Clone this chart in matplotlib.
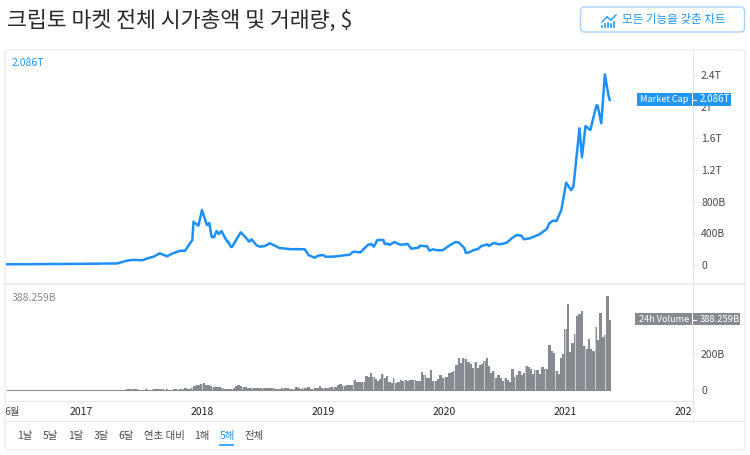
import matplotlib
matplotlib.use("Agg")
import matplotlib.pyplot as plt
from matplotlib.lines import Line2D
from matplotlib.patches import FancyBboxPatch, Rectangle

plt.rcParams['font.family'] = ['Noto Sans CJK KR', 'DejaVu Sans']

title = "크립토 마켓 전체 시가총액 및 거래량, $"
button_text = "모든 기능을 갖춘 차트"

# market cap, billions of dollars
cap_years = [2016.38, 2016.97, 2017.30, 2017.38, 2017.43, 2017.51, 2017.55, 2017.60, 2017.65, 2017.71,
             2017.76, 2017.82, 2017.86, 2017.92, 2017.93, 2017.97, 2018.00, 2018.04, 2018.06, 2018.08,
             2018.10, 2018.12, 2018.14, 2018.16, 2018.21, 2018.215, 2018.24, 2018.25, 2018.29, 2018.32,
             2018.36, 2018.39, 2018.41, 2018.45, 2018.48, 2018.52, 2018.56, 2018.64, 2018.73, 2018.81,
             2018.85, 2018.88, 2018.93, 2018.96, 2019.00, 2019.02, 2019.08, 2019.22, 2019.25, 2019.31,
             2019.37, 2019.40, 2019.42, 2019.45, 2019.50, 2019.51, 2019.54, 2019.55, 2019.59, 2019.64,
             2019.70, 2019.73, 2019.79, 2019.80, 2019.86, 2019.88, 2019.91, 2019.94, 2019.99, 2020.03,
             2020.09, 2020.12, 2020.17, 2020.18, 2020.21, 2020.24, 2020.28, 2020.31, 2020.36, 2020.37,
             2020.41, 2020.46, 2020.52, 2020.56, 2020.60, 2020.64, 2020.66, 2020.71, 2020.79, 2020.85,
             2020.87, 2020.90, 2020.93, 2020.97, 2021.01, 2021.05, 2021.07, 2021.09, 2021.12, 2021.14,
             2021.17, 2021.21, 2021.26, 2021.27, 2021.30, 2021.33, 2021.36, 2021.37]
cap_values = [9, 14, 20, 55, 65, 60, 85, 105, 148, 110,
              148, 180, 180, 316, 547, 496, 695, 505, 530, 353,
              353, 429, 392, 429, 290, 300, 227, 232, 337, 413,
              350, 294, 325, 249, 231, 240, 275, 215, 200, 200,
              198, 126, 92, 118, 126, 105, 105, 130, 168, 160,
              253, 265, 231, 316, 316, 265, 270, 253, 290, 256,
              265, 206, 219, 244, 236, 181, 198, 186, 186, 231,
              287, 287, 211, 152, 160, 186, 202, 240, 261, 240,
              278, 261, 282, 337, 379, 370, 325, 337, 388, 455,
              526, 560, 556, 695, 1040, 947, 989, 1284, 1726, 1360,
              1755, 1705, 2017, 2013, 1790, 2408, 2138, 2086]

# weekly 24h volume, billions of dollars
volume_early = [1, 1, 1, 1, 1, 1, 1, 1, 1, 1, 1, 1, 1, 1, 1, 1, 1, 1, 1, 1,
                1, 1, 1, 1, 1, 1, 1, 1, 1, 1, 1, 1, 1, 1, 2, 1, 1, 1, 1, 1,
                1, 1, 2, 2, 2, 2, 1, 2, 2, 2, 2, 2, 3, 3, 4, 5, 3, 2, 2, 2,
                3, 2, 2, 4, 3, 5, 3, 4, 2, 3, 2, 2, 3, 3, 2, 3, 3,
                10, 5, 7, 9, 24, 28, 30, 33, 37, 30, 26,
                20, 18, 17, 16, 15, 10, 8, 7, 7, 8, 12, 25, 27, 22, 19,
                15, 13, 10, 10, 11, 9, 12, 12, 11, 10, 10, 9, 9, 8, 8, 8,
                9, 9, 9, 8, 8, 8, 16, 9]
volume_mid = [7, 9, 11, 15, 7, 7, 9, 9, 20, 9, 9, 13, 13, 15, 15, 19, 28, 31, 24, 24,
              28, 28, 30, 56, 43, 43, 43, 46, 80, 74, 93, 74, 59, 52, 61, 87, 65, 78, 46, 41,
              65, 41, 44, 54, 50, 54, 50, 54, 56, 57, 48, 48, 98, 83, 65, 65, 111, 50, 52, 59,
              81, 69, 74, 74, 96, 102, 106, 139, 176, 152, 176, 170, 154, 144, 120, 157, 120, 139, 144, 163,
              176, 133, 93, 107, 65, 83, 65, 52, 65, 56, 46, 115, 70, 83, 107, 83, 93, 133, 126]
volume_late = [115, 89, 111, 111, 89, 126, 115, 115,
               250, 218, 204, 107, 89, 180, 200,
               337, 476, 213, 263, 309, 411, 422, 441, 244, 226, 281, 226, 217, 348, 278,
               430, 296, 306, 522, 388]
volume_values = volume_early + volume_mid + volume_late
week = 7 / 365.25
volume_years = [2021.37 - (len(volume_values) - 1 - i) * week for i in range(len(volume_values))]

cap_ticks = [0, 400, 800, 1200, 1600, 2000, 2400]
cap_tick_labels = ['0', '400B', '800B', '1.2T', '1.6T', '2T', '2.4T']
vol_ticks = [0, 200]
vol_tick_labels = ['0', '200B']
year_ticks = [2017, 2018, 2019, 2020, 2021, 2022]
ranges = ['1날', '5날', '1달', '3달', '6달', '연초 대비', '1해', '5해', '전체']
range_x = [25, 50, 76, 101, 126, 164, 202, 227, 254]

BLUE = '#2196F3'
LINE_BLUE = '#1E90F5'
GRAY = '#868A91'
GRID = '#E7E8EE'
TEXT = '#4A4A4F'
W, H = 750, 455


def axes_px(x0, y0, x1, y1):
    # axes from pixel box, y counted from the top
    return fig.add_axes([x0 / W, 1 - y1 / H, (x1 - x0) / W, (y1 - y0) / H])


def fx(x):
    return x / W


def fy(y):
    return 1 - y / H


def rule(x0, y0, x1, y1, color=GRID, lw=0.8, zorder=5):
    fig.add_artist(Line2D([fx(x0), fx(x1)], [fy(y0), fy(y1)], color=color, lw=lw, zorder=zorder))


def box(x0, y0, x1, y1, color):
    fig.add_artist(Rectangle((fx(x0), fy(y1)), (x1 - x0) / W, (y1 - y0) / H, color=color, lw=0, zorder=6))


fig = plt.figure(figsize=(7.5, 4.55), dpi=100)

# card and button outlines
fig.add_artist(FancyBboxPatch((5, H - 450), 740, 400, boxstyle="round,pad=0,rounding_size=4",
                              transform=None, fc='white', ec=GRID, lw=0.8, zorder=0))
fig.add_artist(FancyBboxPatch((580.5, H - 32), 164, 25, boxstyle="round,pad=0,rounding_size=4",
                              transform=None, fc='white', ec='#A9D2FA', lw=1.0, zorder=0))

fig.text(fx(7), fy(21), title, fontsize=15.6, color='#2A2A2E', va='center', ha='left')
fig.text(fx(622), fy(20), button_text, fontsize=8.3, color=BLUE, va='center', ha='left')

# button icon
rule(602, 22, 607, 17, BLUE, 1.0)
rule(607, 17, 611, 20, BLUE, 1.0)
rule(611, 20, 616, 15, BLUE, 1.0)
for ix, iy in zip([602, 605, 608, 611, 614], [26, 24, 23, 24, 22]):
    rule(ix, 27, ix, iy, BLUE, 1.2)

xlim = (2016.38, 2022.05)

# price pane
ax = axes_px(6, 51, 692, 284)
ax.plot(cap_years, cap_values, color=LINE_BLUE, lw=1.8, solid_joinstyle='round')
ax.set_xlim(xlim)
ax.set_ylim(-240, 2703)
ax.set_xticks([])
ax.yaxis.tick_right()
ax.set_yticks(cap_ticks)
ax.set_yticklabels(cap_tick_labels)

# volume pane
ax2 = axes_px(6, 285, 692, 401)
ax2.bar(volume_years, volume_values, width=week * 1.12, color=GRAY, lw=0)
for y in range(2016, 2022):
    for m in range(12):
        if y + m / 12 > 2016.4 and y + m / 12 < 2021.37:
            ax2.axvline(y + m / 12, color='white', alpha=0.6, lw=0.7, zorder=3)
ax2.plot([volume_years[0], volume_years[-1]], [0, 0], color=GRAY, lw=0.8, zorder=4)
ax2.set_xlim(xlim)
ax2.set_ylim(-61, 583)
ax2.set_xticks([])
ax2.yaxis.tick_right()
ax2.set_yticks(vol_ticks)
ax2.set_yticklabels(vol_tick_labels)

for a in (ax, ax2):
    for s in a.spines.values():
        s.set_visible(False)
    a.patch.set_alpha(0)
    a.tick_params(axis='y', length=4, width=0.8, color=GRID, labelsize=7.5, labelcolor=TEXT, pad=2.5)

# time axis strip
ax3 = axes_px(6, 401, 692, 421)
ax3.set_xlim(xlim)
ax3.set_ylim(0, 1)
ax3.axis('off')
ax3.text(2016.43, 0.47, '6월', fontsize=7.5, color=TEXT, ha='center', va='center', clip_on=True)
for yr in year_ticks:
    ax3.text(yr, 0.47, str(yr), fontsize=7.5, color='#222226', ha='center', va='center', clip_on=True)
    ax3.plot([yr, yr], [0.85, 1], color=GRID, lw=0.8)

# pane rules
rule(5, 284, 745, 284, lw=1.2)
rule(5, 401, 692, 401)
rule(5, 421, 745, 421)
rule(692.5, 51, 692.5, 421)

# range buttons
for label, x in zip(ranges, range_x):
    fig.text(fx(x), fy(436), label, fontsize=7.5, va='center', ha='center',
             color=BLUE if label == '5해' else TEXT)
rule(220, 445, 233, 445, BLUE, 1.2)

# last value readouts
fig.text(fx(12), fy(63), '2.086T', fontsize=7.5, color=BLUE, va='center')
fig.text(fx(12), fy(298), '388.259B', fontsize=7.5, color=GRAY, va='center')

box(637, 93, 692, 106, BLUE)
box(693, 93, 731, 106, BLUE)
fig.text(fx(664), fy(99), 'Market Cap', fontsize=6.6, color='white', va='center', ha='center', zorder=7)
fig.text(fx(700), fy(99), '2.086T', fontsize=7, color='white', va='center', ha='left', zorder=7)
rule(693, 99.5, 696, 99.5, 'white', 0.8, 7)

box(635, 313, 692, 325, GRAY)
box(693, 313, 740, 325, GRAY)
fig.text(fx(664), fy(319), '24h Volume', fontsize=6.5, color='white', va='center', ha='center', zorder=7)
fig.text(fx(700), fy(319), '388.259B', fontsize=6.8, color='white', va='center', ha='left', zorder=7)
rule(693, 319.5, 696, 319.5, 'white', 0.8, 7)

fig.savefig('out.png', dpi=100)
